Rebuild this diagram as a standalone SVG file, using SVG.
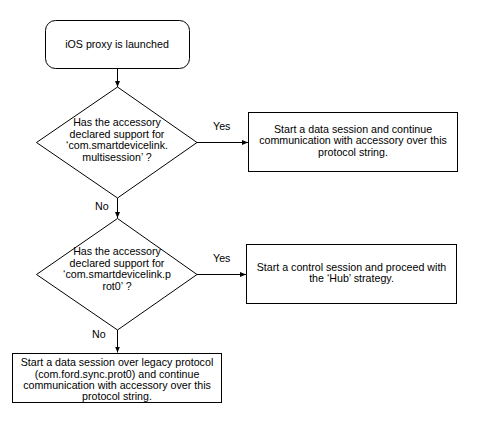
<svg xmlns="http://www.w3.org/2000/svg" width="481" height="431" viewBox="0 0 481 431">
<defs>
<marker id="arr" viewBox="0 0 6 6" refX="6" refY="3" markerWidth="6" markerHeight="6" markerUnits="userSpaceOnUse" orient="auto">
<path d="M0,0.5 L6,3 L0,5.5 Z" fill="#000"/>
</marker>
</defs>
<style>
.shape{fill:#fff;stroke:#000;stroke-width:1}
.t{font-family:"Liberation Sans",Arial,sans-serif;font-size:10.67px;fill:#000;text-anchor:middle}
.lbl{font-family:"Liberation Sans",Arial,sans-serif;font-size:10.67px;fill:#000}
.conn{fill:none;stroke:#000;stroke-width:1;marker-end:url(#arr)}
</style>
<rect width="481" height="431" fill="#fff"/>
<g id="connectors">
<line class="conn" x1="117.5" y1="68.5" x2="117.5" y2="87"/>
<line class="conn" x1="197" y1="142.5" x2="248" y2="142.5"/>
<line class="conn" x1="117.5" y1="198" x2="117.5" y2="218"/>
<line class="conn" x1="197" y1="274.5" x2="246" y2="274.5"/>
<line class="conn" x1="117.5" y1="330" x2="117.5" y2="352.5"/>
<text class="lbl" x="213" y="130">Yes</text>
<text class="lbl" x="95" y="210">No</text>
<text class="lbl" x="213" y="262">Yes</text>
<text class="lbl" x="92" y="338">No</text>
</g>
<g id="start">
<rect class="shape" x="45.5" y="20.5" width="144" height="48" rx="10" ry="10"/>
<text class="t" x="117" y="47.5">iOS proxy is launched</text>
</g>
<g id="decision1">
<polygon class="shape" points="117.5,87 197,142.5 117.5,198 36.5,142.5"/>
<text class="t" x="117" y="126">Has the accessory</text>
<text class="t" x="117" y="137.5">declared support for</text>
<text class="t" x="117" y="149">‘com.smartdevicelink.</text>
<text class="t" x="117" y="160.5">multisession’ ?</text>
</g>
<g id="multisession">
<rect class="shape" x="248.5" y="112.5" width="209" height="59"/>
<text class="t" x="353" y="132.5">Start a data session and continue</text>
<text class="t" x="353" y="144">communication with accessory over this</text>
<text class="t" x="353" y="155.5">protocol string.</text>
</g>
<g id="decision2">
<polygon class="shape" points="117.5,218.5 197,274.5 117.5,330 36.5,274.5"/>
<text class="t" x="117" y="255">Has the accessory</text>
<text class="t" x="117" y="266.5">declared support for</text>
<text class="t" x="117" y="278">‘com.smartdevicelink.p</text>
<text class="t" x="117" y="289.5">rot0’ ?</text>
</g>
<g id="hub">
<rect class="shape" x="246.5" y="244.5" width="210" height="59"/>
<text class="t" x="351.5" y="270.5">Start a control session and proceed with</text>
<text class="t" x="351.5" y="282">the ‘Hub’ strategy.</text>
</g>
<g id="legacy">
<rect class="shape" x="12.5" y="353.5" width="209" height="49"/>
<text class="t" x="117" y="366">Start a data session over legacy protocol</text>
<text class="t" x="117" y="377.5">(com.ford.sync.prot0) and continue</text>
<text class="t" x="117" y="389">communication with accessory over this</text>
<text class="t" x="117" y="400">protocol string.</text>
</g>
</svg>
